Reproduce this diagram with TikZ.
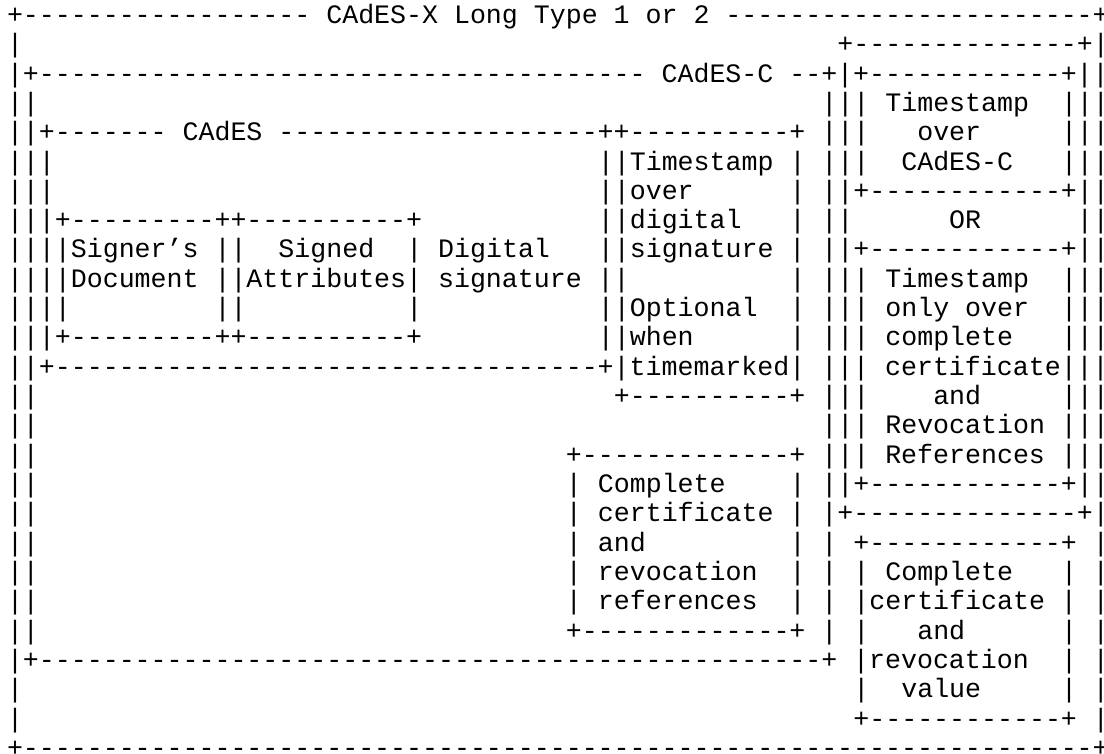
\documentclass[tikz,border=0pt]{standalone}
\usepackage{fontspec}
\setmonofont{Liberation Mono}
\ExplSyntaxOn
\newcommand\dsh[1]{\prg_replicate:nn{#1}{-}}
\ExplSyntaxOff
\tikzset{
  txt/.style={anchor=base west, inner sep=0pt, outer sep=0pt,
    font=\ttfamily\fontsize{26.61pt}{29.32pt}\selectfont, text=black}
}
% row #1, column #2 (0-based), text #3
\newcommand\T[3]{\node[txt] (t#1x#2) at ({7+15.97*#2},{-(23.4+29.32*(#1-1))}) {#3};}
\begin{document}
\begin{tikzpicture}[x=1pt,y=1pt]
\useasboundingbox (0,0) rectangle (1104,-753);
\T{1}{0}{+\dsh{18} CAdES-X Long Type 1 or 2 \dsh{23}+}
\T{2}{0}{|}
\T{2}{52}{+\dsh{14}+|}
\T{3}{0}{|+\dsh{38} CAdES-C \dsh{2}+|+\dsh{12}+||}
\T{4}{0}{||}
\T{4}{51}{|||}
\T{4}{55}{Timestamp}
\T{4}{66}{|||}
\T{5}{0}{||+\dsh{7} CAdES \dsh{20}++\dsh{10}+}
\T{5}{51}{|||}
\T{5}{57}{over}
\T{5}{66}{|||}
\T{6}{0}{|||}
\T{6}{37}{||Timestamp}
\T{6}{49}{|}
\T{6}{51}{|||}
\T{6}{56}{CAdES-C}
\T{6}{66}{|||}
\T{7}{0}{|||}
\T{7}{37}{||over}
\T{7}{49}{|}
\T{7}{51}{||+\dsh{12}+||}
\T{8}{0}{|||+\dsh{9}++\dsh{10}+}
\T{8}{37}{||digital}
\T{8}{49}{|}
\T{8}{51}{||}
\T{8}{59}{OR}
\T{8}{67}{||}
\T{9}{0}{||||Signer’s}
\T{9}{13}{||}
\T{9}{17}{Signed}
\T{9}{25}{| Digital}
\T{9}{37}{||signature |}
\T{9}{51}{||+\dsh{12}+||}
\T{10}{0}{||||Document ||Attributes| signature ||}
\T{10}{49}{| |||}
\T{10}{55}{Timestamp}
\T{10}{66}{|||}
\T{11}{0}{||||}
\T{11}{13}{||}
\T{11}{25}{|}
\T{11}{37}{||Optional}
\T{11}{49}{| |||}
\T{11}{55}{only over}
\T{11}{66}{|||}
\T{12}{0}{|||+\dsh{9}++\dsh{10}+}
\T{12}{37}{||when}
\T{12}{49}{| |||}
\T{12}{55}{complete}
\T{12}{66}{|||}
\T{13}{0}{||+\dsh{34}+|timemarked| ||| certificate|||}
\T{14}{0}{||}
\T{14}{38}{+\dsh{10}+ |||}
\T{14}{58}{and}
\T{14}{66}{|||}
\T{15}{0}{||}
\T{15}{51}{||| Revocation |||}
\T{16}{0}{||}
\T{16}{35}{+\dsh{13}+ ||| References |||}
\T{17}{0}{||}
\T{17}{35}{| Complete}
\T{17}{49}{| ||+\dsh{12}+||}
\T{18}{0}{||}
\T{18}{35}{| certificate |}
\T{18}{51}{|+\dsh{14}+|}
\T{19}{0}{||}
\T{19}{35}{| and}
\T{19}{49}{| | +\dsh{12}+ |}
\T{20}{0}{||}
\T{20}{35}{| revocation}
\T{20}{49}{| | | Complete}
\T{20}{66}{| |}
\T{21}{0}{||}
\T{21}{35}{| references}
\T{21}{49}{| | |certificate | |}
\T{22}{0}{||}
\T{22}{35}{+\dsh{13}+ | |}
\T{22}{57}{and}
\T{22}{66}{| |}
\T{23}{0}{|+\dsh{49}+ |revocation}
\T{23}{66}{| |}
\T{24}{0}{|}
\T{24}{53}{|}
\T{24}{56}{value}
\T{24}{66}{| |}
\T{25}{0}{|}
\T{25}{53}{+\dsh{12}+ |}
\T{26}{0}{+\dsh{67}+}
\end{tikzpicture}
\end{document}
